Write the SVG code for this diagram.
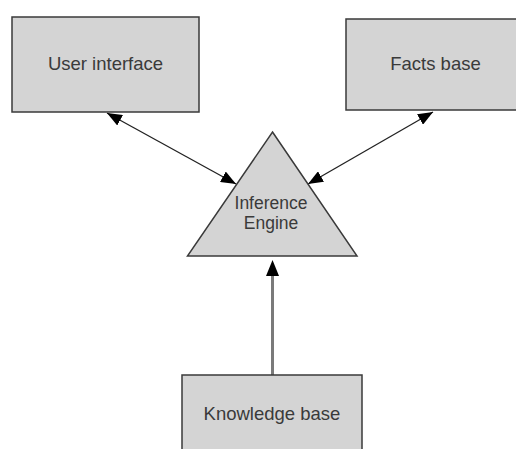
<svg xmlns="http://www.w3.org/2000/svg" width="516" height="449" viewBox="0 0 516 449">
<defs>
<style>
.node{fill:#d4d4d4;stroke:#3a3a3a;stroke-width:1.5}
.lbl{font-family:"Liberation Sans",Arial,sans-serif;font-size:18.5px;fill:#3a3a3a;text-anchor:middle}
.tri{font-size:17.5px}
.conn{stroke:#222;stroke-width:1.3;fill:none}
.conn2{stroke:#7a7a7a;stroke-width:3;fill:none}
</style>
<marker id="ah" markerUnits="userSpaceOnUse" markerWidth="16" markerHeight="12" refX="15" refY="6" orient="auto-start-reverse" viewBox="0 0 16 12">
<path d="M0,0 L15,6 L0,12 Z" fill="#000"/>
</marker>
</defs>
<rect width="516" height="449" fill="#fff"/>
<g id="connectors">
<line class="conn" x1="107" y1="113" x2="236" y2="184" marker-start="url(#ah)" marker-end="url(#ah)"/>
<line class="conn" x1="433" y1="112" x2="308" y2="184" marker-start="url(#ah)" marker-end="url(#ah)"/>
<line class="conn2" x1="272.5" y1="375" x2="272.5" y2="272"/>
<polygon points="272.5,260 266,276 279,276" fill="#000"/>
</g>
<g id="user-interface">
<rect class="node" x="12" y="17" width="187" height="95"/>
<text class="lbl" x="105.5" y="70">User interface</text>
</g>
<g id="facts-base">
<rect class="node" x="346" y="19" width="175" height="91"/>
<text class="lbl" x="435.5" y="70">Facts base</text>
</g>
<g id="inference-engine">
<polygon class="node" points="272.5,132 357,256 187.5,256"/>
<text class="lbl tri" x="271" y="209">Inference</text>
<text class="lbl tri" x="271" y="229">Engine</text>
</g>
<g id="knowledge-base">
<rect class="node" x="182" y="375" width="180" height="80"/>
<text class="lbl" x="272" y="420">Knowledge base</text>
</g>
</svg>
